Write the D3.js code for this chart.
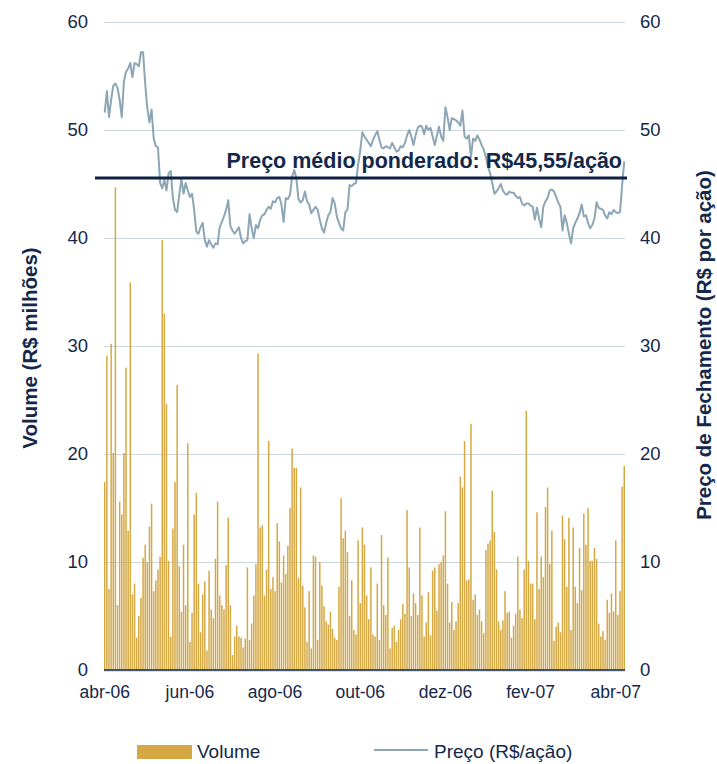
<!DOCTYPE html>
<html>
<head>
<meta charset="utf-8">
<script src="https://cdn.jsdelivr.net/npm/d3@7"></script>
<style>
  body { margin: 0; background: #fff; }
  svg { font-family: "Liberation Sans", Arial, sans-serif; }
  .axis text { fill: #14284b; }
</style>
</head>
<body>
<div id="chart"></div>
<script>
// daily volume (R$ milhões), one value per trading day
var volumeA = [17.4, 29.1, 7.5, 30.2, 20.1, 44.7, 6.0, 15.6, 14.4, 20.1,
  28.0, 12.9, 35.9, 7.0, 8.0, 3.0, 5.0, 6.7, 10.4, 11.6,
  10.0, 13.3, 15.4, 7.3, 8.3, 9.3, 10.5, 39.8, 33.0, 24.6,
  10.1, 3.1, 13.1, 17.4, 26.4, 9.6, 5.4, 11.6, 6.0, 21.0,
  2.6, 5.3, 14.4, 16.4, 8.0, 3.5, 7.0, 8.2, 1.8, 9.2,
  5.6, 4.8, 10.3, 15.6, 6.9, 6.0, 5.6, 9.7, 14.1, 6.0,
  1.4, 3.1, 4.1, 3.1, 3.0, 2.1, 2.9, 9.5, 2.8, 4.3,
  6.9, 9.8, 29.3, 13.2, 13.4, 6.9, 9.3, 21.2, 7.5];
var volumeB = [8.6, 7.3, 13.6, 11.9, 8.1, 10.6, 8.9, 11.5, 15.0, 20.5,
  18.7, 18.7, 8.5, 16.9, 7.8, 5.8, 2.6, 7.3, 2.0, 10.6,
  10.5, 2.8, 10.0, 7.8, 5.9, 4.5, 4.2, 5.4, 3.8, 3.0,
  2.8, 7.7, 15.9, 12.2, 12.9, 10.9, 5.0, 8.3, 3.7, 3.3,
  12.0, 6.2, 13.2, 11.6, 6.9, 4.7, 9.5, 3.3, 3.1, 8.0,
  2.8, 12.5, 6.0, 5.1, 10.4, 2.0, 3.9, 4.1, 2.6, 3.7,
  4.7, 6.1, 5.2, 14.8, 9.5, 5.0, 7.1, 6.2, 5.1, 13.2,
  6.9, 3.1, 4.4, 7.2, 3.2, 9.2, 9.5, 5.5, 9.8];
var volumeC = [10.0, 10.6, 14.7, 8.0, 4.4, 6.3, 3.7, 4.5, 6.2, 17.9,
  16.9, 21.2, 8.3, 8.4, 22.8, 6.5, 7.0, 5.1, 5.6, 4.5,
  3.4, 11.1, 11.7, 12.0, 16.6, 12.8, 9.3, 4.5, 3.7, 4.6,
  7.3, 5.3, 5.4, 3.0, 4.1, 5.2, 10.5, 5.6, 4.8, 9.3,
  24.0, 10.1, 8.0, 8.0, 4.7, 14.6, 7.5, 10.5, 8.6, 15.1, 16.9,
  9.8, 12.9, 2.7, 4.0, 4.4, 3.5, 14.3, 12.1, 7.7, 14.1,
  3.7, 13.2, 7.7, 6.2, 11.3, 7.4, 14.5, 11.6, 15.0, 10.1,
  10.1, 11.3, 10.3, 4.3, 3.1, 3.6, 2.8, 6.5, 5.3, 7.1,
  5.4, 12.0, 5.1, 7.3, 17.0, 18.9];

// closing price (R$/ação)
var priceA = [51.6, 53.6, 51.2, 52.8, 54.1, 54.3, 53.9, 52.8, 51.2, 54.5,
  55.4, 55.7, 56.2, 54.9, 56.2, 56.1, 55.9, 57.2, 57.2, 54.3,
  52.0, 50.7, 51.9, 49.2, 48.5, 48.4, 45.1, 44.6, 45.4, 44.4,
  46.0, 46.2, 43.7, 42.6, 42.4, 44.0, 45.5, 44.1, 45.1, 44.4,
  43.8, 44.1, 42.6, 40.6, 40.4, 41.0, 41.4, 39.8, 39.2, 39.8,
  39.4, 39.1, 39.5, 39.4, 41.0, 41.5, 42.0, 42.6, 43.5, 41.1,
  40.7, 40.4, 40.7, 41.0, 40.0, 39.5, 39.7, 39.8, 42.2, 40.9,
  40.0, 41.2, 40.9, 41.7, 42.1, 42.2, 42.6, 42.9, 42.7];
var priceB = [43.4, 43.3, 43.7, 43.8, 43.1, 41.5, 43.7, 43.6, 44.0, 45.7,
  46.3, 45.5, 43.6, 43.3, 43.5, 44.3, 43.4, 43.1, 42.3, 42.6,
  42.9, 42.6, 41.7, 40.9, 40.5, 41.4, 42.1, 42.4, 43.7, 43.2,
  42.0, 41.4, 40.9, 40.7, 42.4, 42.6, 44.9, 44.8, 45.0, 45.1,
  46.8, 48.1, 49.8, 49.4, 49.1, 48.8, 48.5, 49.1, 49.5, 49.9,
  49.1, 48.4, 48.3, 48.5, 48.4, 48.3, 48.8, 48.4, 48.0, 48.1,
  48.5, 48.4, 48.8, 49.5, 50.0, 49.4, 48.6, 49.5, 50.2, 50.4,
  50.3, 49.6, 50.4, 50.0, 50.2, 49.4, 48.6, 49.5, 50.3];
var priceC = [49.4, 49.0, 52.1, 51.2, 50.0, 51.1, 51.0, 50.9, 50.7, 50.4,
  51.8, 49.4, 49.2, 49.5, 47.5, 49.2, 49.0, 49.5, 49.1, 48.6,
  48.2, 47.5, 46.6, 46.0, 45.1, 44.1, 44.3, 44.6, 45.0, 44.4,
  44.1, 44.0, 44.3, 44.2, 44.2, 43.9, 43.7, 43.8, 43.2, 43.0,
  43.2, 43.2, 43.0, 42.9, 41.7, 42.8, 41.8, 41.0, 42.9, 43.4,
  43.7, 44.4, 44.5, 44.3, 43.8, 43.3, 42.9, 40.7, 42.1, 41.4,
  40.4, 39.5, 40.9, 41.4, 41.8, 42.3, 43.1, 42.0, 42.1, 41.4,
  40.9, 41.2, 41.8, 43.3, 42.8, 42.7, 42.6, 42.1, 41.8, 42.4,
  42.2, 42.6, 42.4, 42.3, 42.4, 44.9, 47.1];

var avgPrice = 45.55;
var yTicks = [0, 10, 20, 30, 40, 50, 60];
var xTickIndex = [0, 40, 80, 120, 160, 200, 240];
var xTickLabels = ["abr-06", "jun-06", "ago-06", "out-06", "dez-06", "fev-07", "abr-07"];

var volume = volumeA.concat(volumeB, volumeC);
var price = priceA.concat(priceB, priceC);

var navy = "#13284a",
    gold = "#d4a843",
    steel = "#8ca6b5",
    grid = "#ccd6dd";

var W = 717, H = 764;
var plot = {left: 104, right: 625, top: 22, bottom: 670};

var svg = d3.select("#chart").append("svg")
    .attr("width", W)
    .attr("height", H);

var x = d3.scaleBand()
    .domain(d3.range(volume.length))
    .range([plot.left, plot.right])
    .paddingInner(0.3);

var yL = d3.scaleLinear().domain([0, 60]).range([plot.bottom, plot.top]);
var yR = d3.scaleLinear().domain([0, 60]).range([plot.bottom, plot.top]);

// gridlines
svg.append("g")
    .attr("transform", "translate(" + plot.left + ",0)")
    .call(d3.axisLeft(yL).tickValues(yTicks.slice(1))
        .tickSize(-(plot.right - plot.left)).tickFormat(""))
    .call(function(g) { g.select(".domain").remove(); })
    .selectAll("line")
    .attr("stroke", grid)
    .attr("stroke-width", 1.2);

// volume bars
svg.append("g").selectAll("rect")
    .data(volume)
    .enter().append("rect")
    .attr("x", function(d, i) { return x(i); })
    .attr("width", x.bandwidth())
    .attr("y", function(d) { return yL(d); })
    .attr("height", function(d) { return yL(0) - yL(d); })
    .attr("fill", gold);

// price line
var line = d3.line()
    .x(function(d, i) { return x(i) + x.bandwidth() / 2; })
    .y(function(d) { return yR(d); });

svg.append("path")
    .datum(price)
    .attr("d", line)
    .attr("fill", "none")
    .attr("stroke", steel)
    .attr("stroke-width", 2)
    .attr("stroke-linejoin", "round");

// baseline
svg.append("line")
    .attr("x1", plot.left).attr("x2", plot.right)
    .attr("y1", yL(0) + 1).attr("y2", yL(0) + 1)
    .attr("stroke", grid).attr("stroke-width", 1.5);
svg.append("line")
    .attr("x1", plot.left).attr("x2", plot.right)
    .attr("y1", yL(0)).attr("y2", yL(0))
    .attr("stroke", navy).attr("stroke-width", 1.5);

// weighted average price
svg.append("line")
    .attr("x1", 95).attr("x2", 627)
    .attr("y1", yR(avgPrice)).attr("y2", yR(avgPrice))
    .attr("stroke", "#0d2244")
    .attr("stroke-width", 3);

svg.append("text")
    .attr("x", 622)
    .attr("y", yR(avgPrice) - 10)
    .attr("text-anchor", "end")
    .attr("font-size", 21.5)
    .attr("font-weight", "bold")
    .attr("fill", navy)
    .text("Preço médio ponderado: R$45,55/ação");

// axes
var left = svg.append("g")
    .attr("class", "axis")
    .attr("transform", "translate(" + plot.left + ",0)")
    .call(d3.axisLeft(yL).tickValues(yTicks).tickSize(0).tickPadding(16));
left.select(".domain").remove();
left.selectAll("text").attr("font-size", 18.5).attr("font-family", null);

var right = svg.append("g")
    .attr("class", "axis")
    .attr("transform", "translate(" + plot.right + ",0)")
    .call(d3.axisRight(yR).tickValues(yTicks).tickSize(0).tickPadding(15));
right.select(".domain").remove();
right.selectAll("text").attr("font-size", 18.5).attr("font-family", null);

var bottom = svg.append("g")
    .attr("class", "axis")
    .attr("transform", "translate(0," + plot.bottom + ")")
    .call(d3.axisBottom(x).tickValues(xTickIndex).tickSize(0).tickPadding(16)
        .tickFormat(function(d) { return xTickLabels[xTickIndex.indexOf(d)]; }));
bottom.select(".domain").remove();
bottom.selectAll("text").attr("font-size", 17.5).attr("font-family", null);

// axis titles
svg.append("text")
    .attr("transform", "translate(37,348) rotate(-90)")
    .attr("text-anchor", "middle")
    .attr("font-size", 20.5)
    .attr("font-weight", "bold")
    .attr("fill", navy)
    .text("Volume (R$ milhões)");

svg.append("text")
    .attr("transform", "translate(711,345) rotate(-90)")
    .attr("text-anchor", "middle")
    .attr("font-size", 20.5)
    .attr("font-weight", "bold")
    .attr("fill", navy)
    .text("Preço de Fechamento (R$ por ação)");

// legend
var legend = svg.append("g");
legend.append("rect")
    .attr("x", 137).attr("y", 745)
    .attr("width", 55).attr("height", 14)
    .attr("fill", gold);
legend.append("text")
    .attr("x", 197).attr("y", 758)
    .attr("font-size", 19)
    .attr("fill", navy)
    .text("Volume");
legend.append("line")
    .attr("x1", 374).attr("x2", 428)
    .attr("y1", 750).attr("y2", 750)
    .attr("stroke", steel).attr("stroke-width", 2);
legend.append("text")
    .attr("x", 434).attr("y", 758)
    .attr("font-size", 19)
    .attr("fill", navy)
    .text("Preço (R$/ação)");
</script>
</body>
</html>
